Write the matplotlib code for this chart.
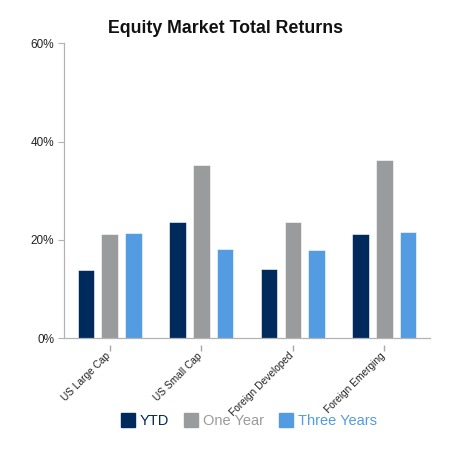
import numpy as np
import matplotlib
matplotlib.use("Agg")
import matplotlib.pyplot as plt
from matplotlib.lines import Line2D

plt.rcParams['font.family'] = ['Liberation Sans', 'DejaVu Sans']

categories = ["US Large Cap", "US Small Cap", "Foreign Developed", "Foreign Emerging"]
series_names = ["YTD", "One Year", "Three Years"]
ytd = [13.9, 23.6, 14.2, 21.2]
one_year = [21.2, 35.3, 23.6, 36.3]
three_years = [21.5, 18.1, 18.0, 21.6]
y_ticks = [0, 20, 40, 60]

colors = ["#002a5c", "#9a9b9d", "#539ce1"]
axis_color = "#b3b3b3"

fig = plt.figure(figsize=(4.5, 4.5), dpi=100)
ax = fig.add_axes([0.142, 0.248, 0.814, 0.656])

x = np.arange(len(categories))
width = 0.18
step = 0.26
for i, (vals, c) in enumerate(zip([ytd, one_year, three_years], colors)):
    ax.bar(x + (i - 1) * step, vals, width=width, color=c,
           edgecolor="white", linewidth=0.4, zorder=2)

ax.set_xlim(-0.5, len(categories) - 0.5)
ax.set_ylim(0, 60)
ax.set_yticks(y_ticks)
ax.set_yticklabels([f"{t}%" for t in y_ticks], fontsize=8.5, color="#222222")
ax.set_xticks(x)
ax.set_xticklabels([])
ax.tick_params(axis="x", length=0)

# category ticks sit a few px below the axis line, with a small gap
ax.vlines(x, -0.041, -0.024, transform=ax.get_xaxis_transform(),
          colors="#a8a8a8", linewidth=1.0, clip_on=False)

for xi, name in zip(x, categories):
    ax.annotate(name, xy=(xi, 0), xycoords=ax.get_xaxis_transform(),
                xytext=(-3.0, -8.8), textcoords="offset points",
                rotation=45, rotation_mode="anchor", ha="right", va="top",
                fontsize=7.3, color="#222222")

for s in ["top", "right"]:
    ax.spines[s].set_visible(False)
for s in ["left", "bottom"]:
    ax.spines[s].set_color(axis_color)
    ax.spines[s].set_linewidth(0.9)
ax.tick_params(axis="y", length=4, color=axis_color, pad=3)

fig.text(0.5, 0.936, "Equity Market Total Returns", ha="center", va="center",
         fontsize=12.8, fontweight="bold", color="#111111")

handles = [Line2D([], [], linestyle="none", marker="s", markersize=9.5,
                  markerfacecolor=c, markeredgecolor=c) for c in colors]
leg = fig.legend(handles, series_names, loc="center", bbox_to_anchor=(0.553, 0.064),
                 ncol=3, frameon=False, fontsize=10.5, handletextpad=0.3,
                 columnspacing=1.0, handlelength=1.0)
for t, c in zip(leg.get_texts(), colors):
    t.set_color(c)

fig.savefig("out.png", dpi=100)
